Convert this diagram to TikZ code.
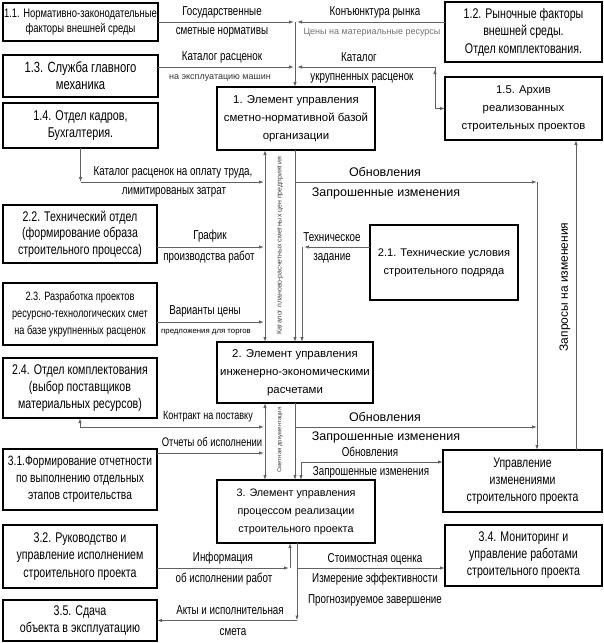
\documentclass[tikz,border=0pt]{standalone}
\usepackage{fontspec}
\setmainfont{Liberation Sans}
\newfontfamily\nar{Liberation Sans}[FakeStretch=0.76]
\usetikzlibrary{arrows.meta}
\begin{document}
\begin{tikzpicture}[x=1pt,y=-1pt,
  box/.style={draw=black, line width=1.1pt, inner sep=0pt, outer sep=0pt, align=center},
  nf/.style 2 args={font=\nar\fontsize{#1}{#2}\selectfont},
  rf/.style 2 args={font=\fontsize{#1}{#2}\selectfont},
  mainbox/.style={draw=black, line width=2.4pt, inner sep=0pt, outer sep=0pt, align=center},
  ln/.style={draw=black!62, line width=0.8pt},
  arr/.style={ln, -{Latex[length=5pt,width=3.4pt]}},
  barr/.style={ln, {Latex[length=5pt,width=3.4pt]}-{Latex[length=5pt,width=3.4pt]}},
  lab/.style={font=\nar\fontsize{12.9}{14}\selectfont, inner sep=0pt},
  slab/.style={font=\fontsize{9}{11}\selectfont, inner sep=0pt},
  wlab/.style={font=\fontsize{12.5}{14}\selectfont, inner sep=0pt},
]
\useasboundingbox (0,0) rectangle (604,643);
% ---------- boxes ----------
\node[box, nf={12.4}{15}, minimum width=155pt, minimum height=38pt] (b11) at (80.5,22) {1.1. Нормативно-законодательные\\факторы внешней среды};
\node[box, nf={14.8}{17}, minimum width=155pt, minimum height=42pt] (b13) at (80.5,76) {1.3. Служба главного\\механика};
\node[box, nf={14.2}{17}, minimum width=155pt, minimum height=45pt] (b14) at (80.5,125.5) {1.4. Отдел кадров,\\Бухгалтерия.};
\node[box, nf={14}{17.5}, minimum width=157pt, minimum height=60pt] (b12) at (523.5,32) {1.2. Рыночные факторы\\внешней среды.\\Отдел комплектования.};
\node[box, rf={11.3}{18}, minimum width=157pt, minimum height=63pt] (b15) at (523.5,108.5) {1.5. Архив\\реализованных\\строительных проектов};
\node[mainbox, rf={11.4}{18}, minimum width=158pt, minimum height=63pt] (b1) at (296,118.5) {1. Элемент управления\\сметно-нормативной базой\\организации};
\node[box, nf={14}{16.5}, minimum width=154pt, minimum height=58pt] (b22) at (80,234) {2.2. Технический отдел\\(формирование образа\\строительного процесса)};
\node[box, nf={12.1}{17}, minimum width=154pt, minimum height=62pt] (b23) at (80,314) {2.3. Разработка проектов\\ресурсно-технологических смет\\на базе укрупненных расценок};
\node[box, rf={11.1}{18}, minimum width=148pt, minimum height=75pt] (b21) at (444,262.5) {2.1. Технические условия\\строительного подряда};
\node[mainbox, rf={11.4}{18}, minimum width=156pt, minimum height=61pt] (b2) at (295,372.5) {2. Элемент управления\\инженерно-экономическими\\расчетами};
\node[box, nf={14}{17}, minimum width=154pt, minimum height=60pt] (b24) at (80,388) {2.4. Отдел комплектования\\(выбор поставщиков\\материальных ресурсов)};
\node[box, nf={13.5}{17}, minimum width=154pt, minimum height=61pt] (b31) at (80,479.5) {3.1.Формирование отчетности\\по выполнению отдельных\\этапов строительства};
\node[box, nf={13.8}{17}, minimum width=159pt, minimum height=62pt] (bui) at (522.5,481) {Управление\\изменениями\\строительного проекта};
\node[mainbox, rf={10.8}{18}, minimum width=158pt, minimum height=63pt] (b3) at (296,511.5) {3. Элемент управления\\процессом реализации\\строительного проекта};
\node[box, nf={14}{17.5}, minimum width=154pt, minimum height=63pt] (b32) at (80,556.5) {3.2. Руководство и\\управление исполнением\\строительного проекта};
\node[box, nf={14}{17}, minimum width=157pt, minimum height=61pt] (b34) at (523.5,555.5) {3.4. Мониторинг и\\управление работами\\строительного проекта};
\node[box, nf={14}{17}, minimum width=154pt, minimum height=41pt] (b35) at (80,620.5) {3.5. Сдача\\объекта в эксплуатацию};
% ---------- junction coordinates ----------
\coordinate (vt) at (295,22);
\coordinate (j13) at (294,67);
\coordinate (j15) at (297,67);
\coordinate (c15) at (435,108.5);
\coordinate (c15b) at (435,67);
\coordinate (c14) at (80.5,182);
\coordinate (v1) at (265,0);
\coordinate (v2) at (295,0);
\coordinate (v3) at (302,0);
\coordinate (vr) at (537,0);
\coordinate (vz) at (576,0);
\coordinate (h182) at (295,182);
\coordinate (h182e) at (537,182);
\coordinate (h247) at (264,247);
\coordinate (c21) at (302,247);
\coordinate (h322) at (264,322);
\coordinate (c24) at (80,427);
\coordinate (h427) at (295,427);
\coordinate (h427e) at (537,427);
\coordinate (h453) at (264,453);
\coordinate (c3u) at (301,462);
\coordinate (c32) at (290,568);
\coordinate (c34) at (297,568);
\coordinate (c35) at (297,620.5);
% ---------- top connectors ----------
\draw[arr] (b11.east) -- ([xshift=-1pt]vt);
\draw[arr] (b12.west |- vt) -- ([xshift=2pt]vt);
\draw[arr] (b13.east |- j13) -- (j13);
\draw[barr] (b15.west) -- (c15) -- (c15b) -- (j15);
\draw[arr] (435,76) -- (435,69);
\draw[arr] (vt) -- (vt |- b1.north);
\node[lab] (l1a) at (222,12) {Государственные};
\node[lab] (l1b) at (222,32) {сметные нормативы};
\node[lab] (l3a) at (222,57) {Каталог расценок};
\node[slab, text=black!80] (l3b) at (220,78) {на эксплуатацию машин};
\node[lab] (l2a) at (375,12) {Конъюнктура рынка};
\node[slab, text=black!55] (l2b) at (372,32) {Цены на материальные ресурсы};
\node[lab] (l5a) at (359,57) {Каталог};
\node[lab] (l5b) at (362,78) {укрупненных расценок};
% ---------- middle connectors ----------
\draw[arr] (b14.south) -- (c14);
\draw[arr] (c14) -- ([xshift=-1pt]c14 -| v1);
\node[lab] (l4a) at (173,172) {Каталог расценок на оплату труда,};
\node[lab] (l4b) at (174,192) {лимитированых затрат};
\draw[barr] (b1.south -| v1) -- (b2.north -| v1);
\node[rotate=90, font=\fontsize{7}{8}\selectfont, text=black!75, inner sep=0pt] (lcat) at (280,246) {Каталог планово-расчетных сметных цен предприятия};
\draw[arr] (b1.south -| v2) -- (b2.north -| v2);
\draw[arr] (h182) -- (h182e);
\draw[arr] (h182e) -- (bui.north -| vr);
\node[wlab] (lo1) at (385,172) {Обновления};
\node[wlab] (lz1) at (386,193) {Запрошенные изменения};
\draw[arr] (b22.east |- h247) -- (h247);
\node[lab] (l22a) at (210,236) {График};
\node[lab] (l22b) at (209,257) {производства работ};
\draw[arr] (b23.east |- h322) -- (h322);
\node[lab] (l23a) at (205,311) {Варианты цены};
\node[font=\fontsize{7.8}{9}\selectfont, inner sep=0pt] (l23b) at (206,332) {предложения для торгов};
\draw[arr] (b21.west |- c21) -- ([xshift=2pt]c21);
\draw[arr] (c21) -- (b2.north -| v3);
\node[lab] (l21a) at (332,237) {Техническое};
\node[lab] (l21b) at (332,258) {задание};
\draw[arr] (bui.north -| vz) -- (b15.south -| vz);
\node[rotate=90, font=\fontsize{12}{14}\selectfont, inner sep=0pt] (lzap) at (565,287) {Запросы на изменения};
% ---------- lower connectors ----------
\draw[barr] (b2.south -| v1) -- (b3.north -| v1);
\draw[barr] (b24.south) -- (c24) -- ([xshift=-1pt]c24 -| v1);
\node[font=\nar\fontsize{11.9}{13}\selectfont, inner sep=0pt] (l24) at (208,417) {Контракт на поставку};
\draw[arr] (b31.east |- h453) -- (h453);
\node[font=\nar\fontsize{12.4}{13}\selectfont, inner sep=0pt] (l31) at (212,442) {Отчеты об исполнении};
\draw[arr] (b2.south -| v2) -- (b3.north -| v2);
\draw[arr] (h427) -- (h427e);
\node[wlab] (lo2) at (385,417) {Обновления};
\node[wlab] (lz2) at (386,437) {Запрошенные изменения};
\draw[barr] (b3.north -| c3u) -- (c3u) -- (bui.west |- c3u);
\node[lab] (lo3) at (370,452) {Обновления};
\node[lab] (lz3) at (371,472) {Запрошенные изменения};
\node[rotate=90, font=\fontsize{6}{7}\selectfont, text=black!75, inner sep=0pt] (lsm) at (280,440) {Сметная документация};
\draw[arr] (b32.east |- c32) -- ([xshift=-1pt]c32);
\draw[arr] (c32) -- (b3.south -| c32);
\node[lab] (l32a) at (223,558) {Информация};
\node[lab] (l32b) at (224,579) {об исполнении работ};
\draw[arr] (b3.south -| c35) -- (c35);
\draw[arr] (c35) -- (b35.east);
\node[lab] (l35a) at (230,610) {Акты и исполнительная};
\node[lab] (l35b) at (233,632) {смета};
\draw[arr] (c34) -- (b34.west |- c34);
\node[lab] (l34a) at (375,559) {Стоимостная оценка};
\node[lab] (l34b) at (375,579) {Измерение эффективности};
\node[lab] (l34c) at (375,600) {Прогнозируемое завершение};
\end{tikzpicture}
\end{document}
